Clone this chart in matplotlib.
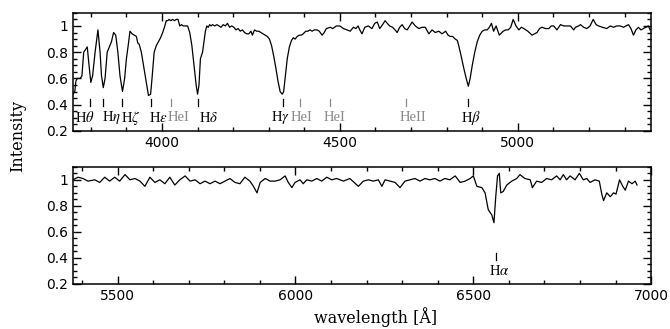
import matplotlib
matplotlib.use("Agg")
import matplotlib.pyplot as plt
from matplotlib.ticker import MultipleLocator, FuncFormatter

# ---- data ----
wave_blue = [3750, 3755, 3758, 3762, 3770, 3775, 3780, 3785, 3790, 3795, 3800, 3805, 3812, 3820,
             3826, 3830, 3835, 3840, 3846, 3852, 3858, 3864, 3870, 3876, 3882, 3889, 3895, 3900,
             3905, 3910, 3916, 3922, 3928, 3932, 3936, 3942, 3948, 3955, 3962, 3968, 3972, 3978,
             3984, 3990, 3996, 4002, 4008, 4012, 4016, 4020, 4025, 4030, 4035, 4040, 4045, 4050,
             4055, 4060, 4066, 4072, 4078, 4084, 4090, 4096, 4100, 4104, 4108, 4114, 4118, 4122,
             4126, 4130, 4134, 4138, 4142, 4148, 4154, 4160, 4166, 4172, 4178, 4184, 4190, 4196,
             4202, 4208, 4214, 4220, 4226, 4232, 4238, 4244, 4250, 4254, 4260, 4266, 4272, 4278,
             4284, 4290, 4296, 4302, 4308, 4314, 4320, 4326, 4332, 4338, 4342, 4346, 4352, 4358,
             4364, 4369, 4374, 4380, 4386, 4392, 4397, 4404, 4410, 4416, 4422, 4428, 4436, 4442,
             4450, 4456, 4462, 4473, 4480, 4490, 4500, 4510, 4520, 4529, 4538, 4545, 4551, 4556,
             4562, 4570, 4580, 4590, 4598, 4605, 4612, 4620, 4627, 4633, 4640, 4648, 4655, 4661,
             4668, 4675, 4682, 4689, 4696, 4703, 4712, 4722, 4731, 4740, 4750, 4759, 4768, 4778,
             4787, 4797, 4804, 4810, 4817, 4824, 4830, 4834, 4840, 4848, 4855, 4861, 4866, 4872,
             4879, 4886, 4893, 4900, 4907, 4914, 4920, 4926, 4932, 4939, 4948, 4959, 4966, 4973,
             4980, 4987, 4995, 5003, 5010, 5017, 5028, 5040, 5047, 5054, 5061, 5068, 5078, 5087,
             5094, 5101, 5110, 5120, 5129, 5138, 5148, 5157, 5162, 5171, 5176, 5185, 5194, 5203,
             5212, 5220, 5227, 5238, 5250, 5260, 5269, 5278, 5288, 5297, 5304, 5311, 5318, 5325,
             5332, 5339, 5346, 5353, 5360, 5367, 5372]
flux_blue = [0.48, 0.50, 0.58, 0.60, 0.60, 0.62, 0.80, 0.82, 0.84, 0.70, 0.57, 0.62, 0.80, 0.97,
             0.80, 0.62, 0.53, 0.60, 0.80, 0.84, 0.88, 0.95, 0.93, 0.80, 0.62, 0.50, 0.60, 0.75,
             0.85, 0.96, 0.94, 0.93, 0.92, 0.87, 0.86, 0.80, 0.70, 0.58, 0.47, 0.48, 0.60, 0.80,
             0.85, 0.88, 0.91, 0.95, 1.00, 1.04, 1.04, 1.05, 1.04, 1.05, 1.04, 1.05, 1.05, 1.00,
             1.01, 1.00, 1.00, 1.00, 0.95, 0.85, 0.70, 0.55, 0.48, 0.55, 0.75, 0.80, 0.88, 0.96,
             1.00, 0.99, 1.01, 1.00, 1.01, 1.00, 1.01, 1.00, 0.99, 1.01, 1.00, 1.02, 0.99, 1.00,
             0.99, 0.97, 0.98, 0.96, 0.97, 0.95, 0.94, 0.94, 0.96, 0.93, 0.97, 0.96, 0.96, 0.95,
             0.94, 0.93, 0.92, 0.90, 0.85, 0.77, 0.68, 0.58, 0.50, 0.48, 0.50, 0.60, 0.75, 0.84,
             0.89, 0.91, 0.90, 0.92, 0.93, 0.93, 0.94, 0.96, 0.96, 0.97, 0.96, 0.97, 0.97, 0.96,
             0.93, 0.95, 0.98, 0.99, 0.98, 1.00, 1.00, 0.98, 0.97, 0.96, 0.99, 0.98, 1.00, 0.97,
             0.94, 0.99, 1.00, 0.98, 1.02, 1.03, 0.98, 1.01, 1.04, 1.02, 1.00, 0.99, 0.97, 0.95,
             0.99, 1.01, 0.98, 0.97, 1.00, 1.03, 1.00, 0.98, 0.99, 0.99, 0.94, 0.97, 0.95, 0.96,
             0.94, 0.96, 0.93, 0.92, 0.92, 0.90, 0.89, 0.85, 0.78, 0.68, 0.60, 0.54, 0.60, 0.70,
             0.80, 0.88, 0.93, 0.96, 0.97, 0.97, 0.99, 1.02, 0.96, 1.00, 0.93, 0.96, 0.97, 0.97,
             0.99, 1.05, 1.00, 0.97, 0.99, 0.98, 0.96, 0.93, 0.94, 0.95, 0.98, 0.99, 0.98, 0.98,
             1.00, 1.00, 0.97, 1.01, 1.00, 1.00, 1.00, 0.97, 0.99, 1.00, 1.01, 0.99, 0.98, 1.00,
             1.05, 1.01, 1.00, 0.99, 0.98, 1.00, 0.99, 1.00, 1.00, 0.99, 1.00, 1.01, 0.98, 0.93,
             0.97, 0.99, 0.97, 0.98, 0.99, 1.00, 0.97]

wave_red = [5375, 5389, 5403, 5417, 5436, 5450, 5464, 5478, 5492, 5506, 5521, 5535, 5549, 5563,
            5577, 5591, 5605, 5619, 5633, 5647, 5661, 5675, 5690, 5704, 5718, 5732, 5746, 5760,
            5774, 5788, 5802, 5816, 5830, 5844, 5858, 5872, 5882, 5892, 5901, 5915, 5929, 5943,
            5957, 5971, 5980, 5990, 5999, 6013, 6022, 6032, 6046, 6060, 6074, 6088, 6102, 6116,
            6135, 6153, 6177, 6191, 6205, 6219, 6233, 6243, 6252, 6266, 6280, 6294, 6308, 6322,
            6336, 6350, 6364, 6378, 6392, 6406, 6420, 6434, 6449, 6463, 6477, 6491, 6500, 6510,
            6524, 6533, 6542, 6552, 6558, 6563, 6568, 6573, 6577, 6584, 6594, 6608, 6622, 6631,
            6645, 6660, 6666, 6678, 6692, 6706, 6720, 6734, 6744, 6753, 6762, 6772, 6786, 6798,
            6809, 6819, 6828, 6842, 6854, 6861, 6866, 6875, 6885, 6894, 6901, 6911, 6920, 6927,
            6936, 6946, 6955, 6960]
flux_red = [1.00, 1.02, 1.01, 0.99, 1.00, 0.98, 1.02, 0.99, 1.02, 0.99, 1.04, 1.00, 1.01, 0.99,
            0.95, 1.02, 0.98, 1.00, 0.97, 1.02, 0.96, 1.00, 1.03, 0.99, 1.00, 0.97, 0.99, 0.97,
            0.99, 0.97, 0.99, 1.01, 0.98, 0.97, 1.02, 0.99, 0.95, 0.90, 0.98, 1.01, 0.99, 0.99,
            1.00, 1.03, 0.98, 0.94, 0.98, 1.00, 0.97, 1.00, 0.99, 1.01, 0.99, 1.02, 1.00, 1.01,
            0.99, 1.01, 0.95, 0.99, 1.00, 0.99, 1.00, 0.95, 1.00, 0.99, 0.98, 0.94, 0.99, 1.00,
            1.01, 0.99, 1.01, 1.00, 1.01, 0.99, 1.01, 1.00, 1.03, 0.98, 0.99, 1.01, 1.03, 0.95,
            0.94, 0.90, 0.77, 0.73, 0.67, 0.87, 1.03, 1.05, 0.90, 0.91, 0.96, 0.99, 1.01, 1.04,
            1.01, 1.00, 0.94, 0.99, 0.98, 1.01, 1.00, 1.03, 1.00, 1.04, 1.00, 1.03, 1.00, 1.05,
            1.00, 1.01, 0.98, 1.00, 0.99, 0.89, 0.84, 0.90, 0.87, 0.90, 0.89, 1.00, 0.95, 0.92,
            0.99, 0.97, 0.99, 0.96]

line_names_blue = [r'H$\theta$', r'H$\eta$', r'H$\zeta$', r'H$\epsilon$', 'HeI', r'H$\delta$',
                   r'H$\gamma$', 'HeI', 'HeI', 'HeII', r'H$\beta$']
line_waves_blue = [3798, 3835, 3889, 3970, 4026, 4102, 4340, 4388, 4471, 4686, 4861]
line_is_he_blue = [False, False, False, False, True, False, False, True, True, True, False]
line_names_red = [r'H$\alpha$']
line_waves_red = [6563]

# label shifts (in Angstrom) relative to the line mark, to avoid overlaps
label_shift_blue = [-14, 22, 22, 20, 20, 28, -6, 3, 14, 20, 8]
label_shift_red = [11]

plt.rcParams['mathtext.fontset'] = 'stix'

fig = plt.figure(figsize=(6.70, 3.29), dpi=100)
ax1 = fig.add_axes([0.109, 0.602, 0.863, 0.359])
ax2 = fig.add_axes([0.109, 0.137, 0.863, 0.356])

ax1.plot(wave_blue, flux_blue, color='black', lw=0.9)
ax2.plot(wave_red, flux_red, color='black', lw=0.9)
ax1.set_xlim(3750, 5375)
ax2.set_xlim(5375, 7000)


def yfmt(v, pos):
    if abs(v - 1) < 1e-6:
        return '1'
    return '%.1f' % v


for ax in (ax1, ax2):
    ax.set_ylim(0.2, 1.1)
    ax.xaxis.set_major_locator(MultipleLocator(500))
    ax.xaxis.set_minor_locator(MultipleLocator(100))
    ax.yaxis.set_major_locator(MultipleLocator(0.2))
    ax.yaxis.set_minor_locator(MultipleLocator(0.05))
    ax.yaxis.set_major_formatter(FuncFormatter(yfmt))
    ax.tick_params(which='both', direction='in', top=True, right=True, width=1.0,
                   labelsize=10)
    ax.tick_params(which='major', length=6)
    ax.tick_params(which='minor', length=3)
    for lab in ax.get_xticklabels() + ax.get_yticklabels():
        lab.set_family('DejaVu Sans')
    for s in ax.spines.values():
        s.set_linewidth(1.1)

grey = '#8a8a8a'
for name, w, he, dx in zip(line_names_blue, line_waves_blue, line_is_he_blue, label_shift_blue):
    c = grey if he else 'black'
    ax1.plot([w, w], [0.39, 0.445], color=c, lw=0.9)
    ax1.text(w + dx, 0.30, name, ha='center', va='center', color=c, fontsize=10.5,
             family='Liberation Serif')
for name, w, dx in zip(line_names_red, line_waves_red, label_shift_red):
    ax2.plot([w, w], [0.385, 0.44], color='black', lw=0.9)
    ax2.text(w + dx, 0.30, name, ha='center', va='center', color='black', fontsize=10.5,
             family='Liberation Serif')

fig.text(0.027, 0.587, 'Intensity', rotation=90, ha='center', va='center',
         family='DejaVu Serif', fontsize=11.5)
fig.text(0.56, 0.035, 'wavelength [Å]', ha='center', va='center',
         family='DejaVu Serif', fontsize=11.5)

fig.savefig('out.png', dpi=100)
